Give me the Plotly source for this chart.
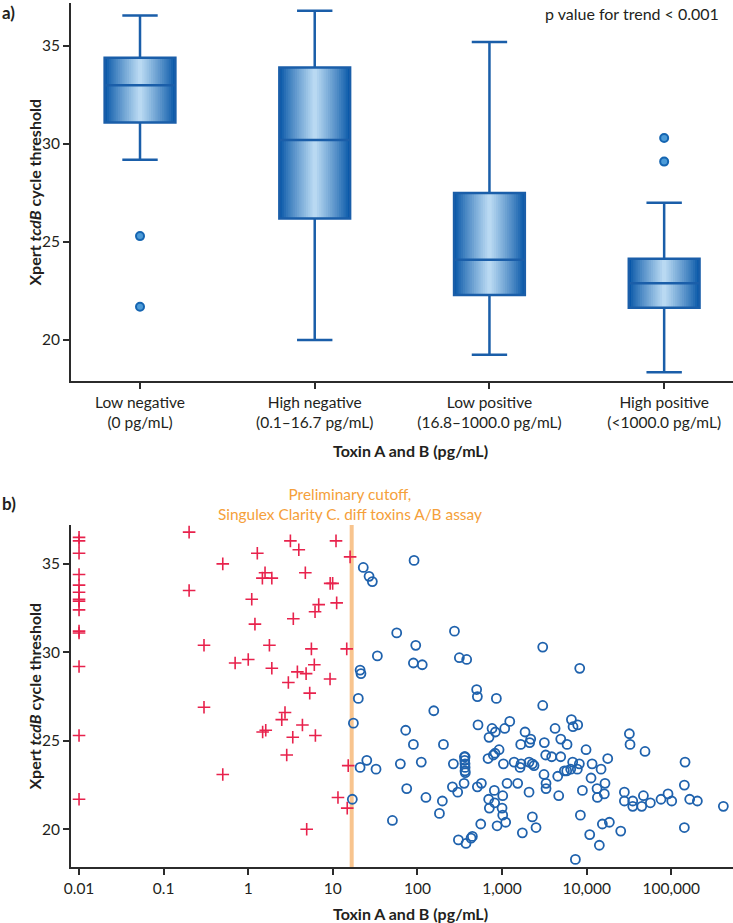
import plotly.graph_objects as go

W, H = 733, 923

# ---------------- Panel a data ----------------
group_labels = ["Low negative<br>(0 pg/mL)", "High negative<br>(0.1–16.7 pg/mL)",
                "Low positive<br>(16.8–1000.0 pg/mL)", "High positive<br>(<1000.0 pg/mL)"]
group_pos = [0, 1, 2, 3]
box_q1 = [31.1, 26.2, 22.3, 21.65]
box_median = [33.0, 30.2, 24.1, 22.9]
box_q3 = [34.4, 33.9, 27.5, 24.15]
box_lower = [29.2, 20.0, 19.25, 18.35]
box_upper = [36.55, 36.8, 35.2, 27.0]
outlier_group = [0, 0, 3, 3]
outlier_y = [25.3, 21.7, 30.3, 29.1]

# ---------------- Panel b data ----------------
cutoff = 16.7
neg_x = [0.01] * 14 + [
    0.2, 0.2, 0.3, 0.3, 0.5, 0.5, 0.7, 1.0, 1.1, 1.2, 1.28, 1.47, 1.48, 1.58, 1.61, 1.78, 1.9, 1.9,
    2.49, 2.72, 2.85, 2.98, 3.15, 3.36, 3.41, 3.81, 3.96, 4.37, 4.73, 4.83, 4.91, 5.33, 5.58, 6.04,
    6.16, 6.22, 6.81, 9.27, 9.3, 9.95, 10.9, 11.1, 11.5, 14.6, 14.8, 15.2, 16.0]
neg_y = [36.5, 36.3, 35.6, 34.4, 33.8, 33.4, 33.0, 32.9, 32.4, 31.2, 31.1, 29.2, 25.3, 21.7] + [
    36.8, 33.5, 30.4, 26.9, 35.0, 23.1, 29.4, 29.6, 33.0, 31.6, 35.6, 34.2, 25.5, 34.5, 25.6, 30.4, 34.2, 29.1,
    26.2, 26.6, 24.2, 28.3, 36.3, 25.2, 31.9, 28.9, 35.8, 25.9, 34.5, 28.8, 20.0, 27.7, 30.2, 29.3,
    32.3, 25.3, 32.7, 28.5, 33.9, 33.9, 36.3, 32.8, 21.8, 30.2, 21.2, 23.6, 35.4]

pos_x = [17.0, 17.5, 20.0, 21.0, 21.5, 21.0, 22.9, 25.2, 26.8, 29.3, 32.4, 33.6,
         50.6, 56.9, 62.8, 72.6, 74.7, 89.6, 89.6, 91.2, 95.5, 111, 114, 126, 156, 182, 197, 203,
         259, 266, 274, 299, 305, 313, 356, 359, 366, 362, 365, 366, 365, 368, 375, 382, 430, 446,
         501, 511, 511, 520, 560, 570, 683, 695, 702, 708, 762, 790, 811, 818, 826, 834, 857, 874, 922,
         1000, 1019, 1019, 1038, 1076, 1104, 1146, 1233, 1388, 1531, 1633, 1663, 1680, 1738, 1871,
         2085, 2085, 2122, 2183, 2282, 2282, 2388, 2523, 3027, 3027, 3134, 3164, 3281, 3311, 3311,
         3864, 4236, 4550, 4677, 4937, 4943, 5454, 5810, 5866, 6480, 6607, 6839, 6907, 7362, 7762,
         7840, 8200, 8280, 8433, 8910, 9840,
         10870, 11270, 11600, 13270, 13400, 14130, 14800, 15340, 16180, 16480, 17750, 18570, 25290,
         27930, 27930, 32000, 32580, 35080, 35080, 44800, 46900, 48980, 56650, 75700, 91600, 101400,
         142900, 142900, 145600, 165200, 203700, 413000]
pos_y = [21.7, 26.0, 27.4, 29.0, 28.8, 23.5, 34.8, 23.9, 34.3, 34.0, 23.4, 29.8,
         20.5, 31.1, 23.7, 25.6, 22.3, 29.4, 24.8, 35.2, 30.4, 23.8, 29.3, 21.8, 26.7, 20.9, 21.6, 24.8,
         22.4, 23.7, 31.2, 22.1, 19.4, 29.7, 22.6, 24.1, 24.1, 23.9, 23.7, 23.5, 23.3, 23.2, 19.2, 29.6, 19.5, 19.6,
         27.9, 27.5, 22.4, 25.9, 20.3, 22.6, 24.0, 21.7, 25.2, 21.2, 25.7, 24.2, 22.2, 21.5, 24.3, 25.5, 27.4, 20.2, 24.5,
         21.2, 21.9, 20.8, 23.7, 25.7, 20.4, 22.6, 26.1, 23.8, 22.6, 23.5, 24.8, 23.7, 19.8, 25.5,
         23.8, 22.1, 24.9, 25.1, 23.7, 20.7, 23.6, 20.1, 30.3, 27.0, 23.1, 24.9, 24.2, 22.6, 22.3,
         24.1, 25.7, 23.0, 21.9, 24.1, 25.1, 23.3, 23.3, 24.8, 23.4, 26.2, 23.8, 25.8, 18.3, 23.4,
         25.9, 23.7, 29.1, 20.8, 22.2, 24.5,
         19.7, 22.9, 23.7, 22.3, 21.8, 19.1, 23.4, 20.3, 22.0, 22.6, 24.0, 20.4, 19.9,
         22.1, 21.6, 25.4, 24.8, 21.6, 21.3, 21.3, 21.9, 24.4, 21.5, 21.7, 22.0, 21.6,
         22.5, 20.1, 23.8, 21.7, 21.6, 21.3]

x_tickvals = [0.01, 0.1, 1, 10, 100, 1000, 10000, 100000]
x_ticktext = ["0.01", "0.1", "1", "10", "100", "1,000", "10,000", "100,000"]

# ---------------- helpers ----------------
def py(p):
    return 1 - p / H

def px(p):
    return p / W

def mix(c1, c2, t):
    a = [int(c1[i:i + 2], 16) for i in (1, 3, 5)]
    b = [int(c2[i:i + 2], 16) for i in (1, 3, 5)]
    return "rgb(%d,%d,%d)" % tuple(round(a[i] + (b[i] - a[i]) * t) for i in range(3))

FONT = "Lato, 'Open Sans', sans-serif"
TXT = "#231f20"
BLUE_EDGE = "#0a59a9"
BLUE_LIGHT = "#b9d9f2"
BLUE_LINE = "#1a5ea9"

fig = go.Figure()

BOXW = 0.405
NL = 16
for k in range(NL):
    frac = 1 - k / NL
    t = (k / (NL - 1)) ** 0.9
    fig.add_trace(go.Box(
        x=group_pos, q1=box_q1, median=box_median, q3=box_q3,
        lowerfence=box_lower, upperfence=box_upper,
        width=BOXW * frac, fillcolor=mix(BLUE_EDGE, BLUE_LIGHT, t),
        line=dict(color="rgba(0,0,0,0)", width=0), whiskerwidth=0,
        boxpoints=False, showlegend=False, hoverinfo="skip",
        xaxis="x", yaxis="y"))
# outline, whiskers and median on top
fig.add_trace(go.Box(
    x=group_pos, q1=box_q1, median=box_median, q3=box_q3,
    lowerfence=box_lower, upperfence=box_upper,
    width=BOXW, fillcolor="rgba(0,0,0,0)",
    line=dict(color=BLUE_LINE, width=2.5), whiskerwidth=0.5,
    boxpoints=False, showlegend=False, hoverinfo="skip",
    xaxis="x", yaxis="y"))
fig.add_trace(go.Scatter(
    x=outlier_group, y=outlier_y, mode="markers",
    marker=dict(size=8, color="#4c9bd8", line=dict(color="#1565b1", width=2)),
    showlegend=False, hoverinfo="skip", xaxis="x", yaxis="y"))

# panel b
YR2 = [17.87, 37.2]
fig.add_trace(go.Scatter(
    x=[cutoff, cutoff], y=YR2, mode="lines",
    line=dict(color="#f8c48e", width=4),
    showlegend=False, hoverinfo="skip", xaxis="x2", yaxis="y2"))
fig.add_trace(go.Scatter(
    x=neg_x, y=neg_y, mode="markers",
    marker=dict(symbol="cross-thin", size=9, line=dict(color="#e8224c", width=1.6)),
    showlegend=False, hoverinfo="skip", xaxis="x2", yaxis="y2"))
fig.add_trace(go.Scatter(
    x=pos_x, y=pos_y, mode="markers",
    marker=dict(symbol="circle-open", size=9, color="#1f62ad", line=dict(color="#1f62ad", width=1.8)),
    showlegend=False, hoverinfo="skip", xaxis="x2", yaxis="y2"))

axis_common = dict(showline=True, linecolor="#2b2b2b", linewidth=2, ticks="outside",
                   ticklen=6, tickwidth=1.5, tickcolor="#2b2b2b", showgrid=False, zeroline=False,
                   tickfont=dict(family=FONT, size=15.5, color=TXT))

fig.update_layout(
    width=W, height=H, autosize=False,
    margin=dict(l=0, r=0, t=0, b=0, autoexpand=False),
    plot_bgcolor="white", paper_bgcolor="white",
    xaxis=dict(domain=[71 / W, 1], range=[-0.395, 3.394], tickvals=group_pos,
               ticktext=group_labels, anchor="y", **axis_common),
    yaxis=dict(domain=[py(381), py(3)], range=[17.91, 37.19], tickvals=[20, 25, 30, 35],
               anchor="x", **axis_common),
    xaxis2=dict(domain=[71 / W, 1], type="log", range=[-2.095, 5.73], tickvals=x_tickvals,
                ticktext=x_ticktext, anchor="y2", **axis_common),
    yaxis2=dict(domain=[py(867), py(525)], range=YR2, tickvals=[20, 25, 30, 35],
                anchor="x2", **axis_common),
    boxmode="overlay",
)

ann = []
def A(text, x, y, size=15, **kw):
    d = dict(text=text, x=px(x), y=py(y), xref="paper", yref="paper", showarrow=False,
             yanchor="middle",
             font=dict(family=FONT, size=size, color=kw.pop("color", TXT)))
    d.update(kw)
    ann.append(d)

A("<b>a)</b>", 0, 13, size=17, xanchor="left")
A("<b>b)</b>", 0, 503, size=17, xanchor="left")
A("p value for trend < 0.001", 721, 14, size=16, xanchor="right")
A("<b>Xpert <i>tcdB</i> cycle threshold</b>", 22, 192, size=16, textangle=-90)
A("<b>Xpert <i>tcdB</i> cycle threshold</b>", 22, 696, size=16, textangle=-90)
A("<b>Toxin A and B (pg/mL)</b>", 410, 450, size=16)
A("<b>Toxin A and B (pg/mL)</b>", 410, 913, size=16)
A("Preliminary cutoff,<br>Singulex Clarity C. diff toxins A/B assay", 350, 504, size=15.4,
  color="#f5a03a")
fig.update_layout(annotations=ann)

fig.write_html("out.html", config={"displayModeBar": False},
               post_script="document.body.style.margin='0px';")
